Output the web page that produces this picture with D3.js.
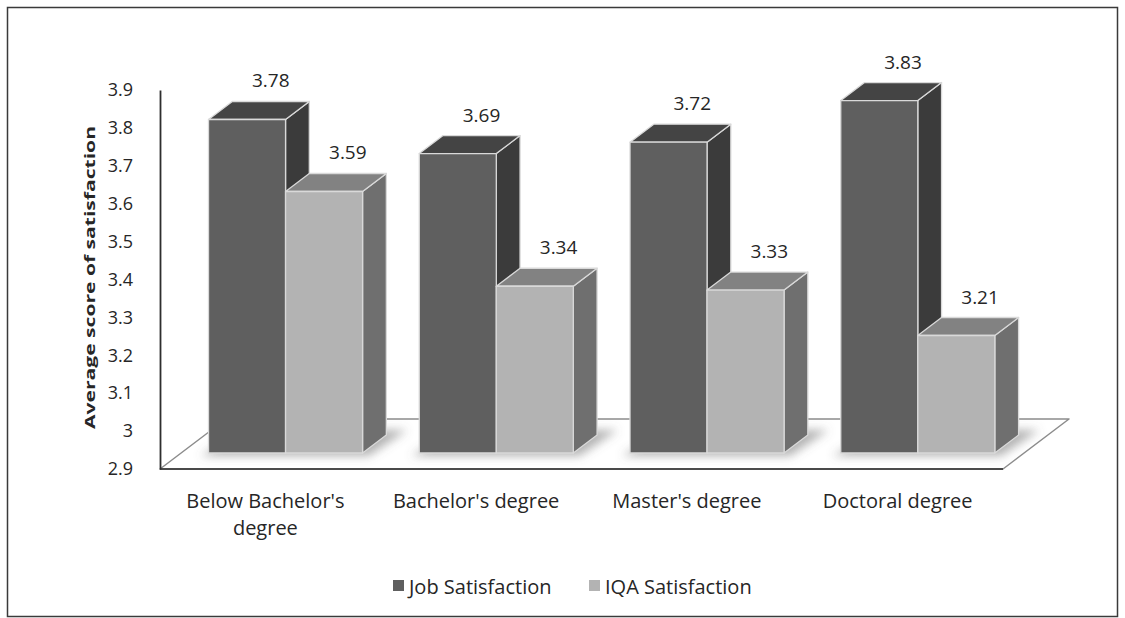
<!DOCTYPE html>
<html>
<head>
<meta charset="utf-8">
<script src="https://cdn.jsdelivr.net/npm/d3@7/dist/d3.min.js"></script>
<style>
  html, body { margin: 0; padding: 0; background: #ffffff; }
  svg { display: block; }
  text { font-family: "Open Sans", "Noto Sans", sans-serif; fill: #262626; }
</style>
</head>
<body>
<svg id="chart" width="1125" height="618"></svg>
<script>
// ---- data ----
const categories = ["Below Bachelor's degree", "Bachelor's degree", "Master's degree", "Doctoral degree"];
const seriesNames = ["Job Satisfaction", "IQA Satisfaction"];
const jobSatisfaction = [3.78, 3.69, 3.72, 3.83];
const iqaSatisfaction = [3.59, 3.34, 3.33, 3.21];
const yTicks = [2.9, 3.0, 3.1, 3.2, 3.3, 3.4, 3.5, 3.6, 3.7, 3.8, 3.9];
const yTitle = "Average score of satisfaction";

const seriesValues = [jobSatisfaction, iqaSatisfaction];

// face shades per series: front, top, side
const shades = [
  { front: "#5f5f5f", top: "#444444", side: "#3b3b3b" },
  { front: "#b3b3b3", top: "#828282", side: "#6f6f6f" }
];

const svg = d3.select("#chart");

// outer frame
svg.append("rect")
  .attr("x", 7.5).attr("y", 7.5)
  .attr("width", 1110).attr("height", 609)
  .attr("fill", "none").attr("stroke", "#3a3a3a").attr("stroke-width", 1.5);

// ---- scales ----
const x = d3.scaleBand().domain(categories).range([160, 1003]).padding(0);
const xInner = d3.scaleBand().domain(seriesNames)
  .range([x.bandwidth() * 0.13, x.bandwidth() * 0.861]).padding(0);
const y = d3.scaleLinear().domain([2.9, 3.9]).range([469, 90]);

// oblique depth direction for the 3D floor
const DX = 66, DY = -50;
const proj = (px, v, d) => [px + d * DX, y(v) + d * DY];
const depthFront = 0.32, depthBack = 0.68;
const base = y.domain()[0];

const defs = svg.append("defs");
defs.append("filter").attr("id", "soft")
  .attr("x", "-20%").attr("y", "-50%").attr("width", "140%").attr("height", "200%")
  .append("feGaussianBlur").attr("stdDeviation", 5);

// ---- floor ----
const floorPts = [
  proj(x.range()[0], base, 0),
  proj(x.range()[1], base, 0),
  proj(x.range()[1], base, 1),
  proj(x.range()[0], base, 1)
];
defs.append("clipPath").attr("id", "floorClip")
  .append("polygon").attr("points", floorPts.map(p => p.join(",")).join(" "));

svg.append("polygon")
  .attr("points", floorPts.map(p => p.join(",")).join(" "))
  .attr("fill", "#ffffff")
  .attr("stroke", "#8c8c8c").attr("stroke-width", 1.5)
  .attr("stroke-linejoin", "round");

// soft shadows cast on the floor by each bar pair
const shadowG = svg.append("g").attr("clip-path", "url(#floorClip)")
  .append("g").attr("filter", "url(#soft)");
categories.forEach((c, i) => {
  const x0 = x(c) + xInner(seriesNames[0]);
  const x1 = x(c) + xInner(seriesNames[1]) + xInner.bandwidth();
  const pts = [
    proj(x0 - 4, base, depthFront - 0.06),
    proj(x1 + 10, base, depthFront - 0.06),
    proj(x1 + 14, base, depthBack + 0.1),
    proj(x0 + 6, base, depthBack + 0.1)
  ];
  shadowG.append("polygon")
    .attr("points", pts.map(p => p.join(",")).join(" "))
    .attr("fill", "#6a6a6a").attr("opacity", 0.5);
});

// front edge of the floor
svg.append("line")
  .attr("x1", floorPts[0][0]).attr("y1", floorPts[0][1])
  .attr("x2", floorPts[1][0]).attr("y2", floorPts[1][1])
  .attr("stroke", "#4a4a4a").attr("stroke-width", 1.8);

// ---- y axis ----
const yAxis = d3.axisLeft(y)
  .tickValues(yTicks)
  .tickFormat(d3.format("~g"))
  .tickSize(0)
  .tickSizeOuter(0)
  .tickPadding(27);

const axisG = svg.append("g")
  .attr("transform", `translate(${x.range()[0]},0)`)
  .call(yAxis);
axisG.select(".domain").attr("stroke", "#2e2e2e").attr("stroke-width", 1.8);
axisG.selectAll(".tick text")
  .attr("font-family", "Open Sans, sans-serif")
  .attr("font-size", 18)
  .attr("fill", "#262626");

svg.append("text")
  .attr("transform", `translate(89,${(y(3.9) + y(2.9)) / 2 - 2}) rotate(-90)`)
  .attr("text-anchor", "middle")
  .attr("dominant-baseline", "central")
  .attr("font-size", 15)
  .attr("font-weight", "bold")
  .attr("textLength", 303)
  .attr("lengthAdjust", "spacingAndGlyphs")
  .attr("fill", "#111111")
  .text(yTitle);

// ---- 3D bars ----
const barsG = svg.append("g");
const edge = "#d9d9d9";

categories.forEach((c, i) => {
  seriesNames.forEach((s, k) => {
    const v = seriesValues[k][i];
    const xl = x(c) + xInner(s);
    const xr = xl + xInner.bandwidth();
    const sh = shades[k];
    const g = barsG.append("g");

    const fBL = proj(xl, base, depthFront), fBR = proj(xr, base, depthFront);
    const fTL = proj(xl, v, depthFront), fTR = proj(xr, v, depthFront);
    const bTL = proj(xl, v, depthBack), bTR = proj(xr, v, depthBack);
    const bBR = proj(xr, base, depthBack);

    const poly = pts => pts.map(p => p.join(",")).join(" ");

    // side face
    g.append("polygon").attr("points", poly([fTR, bTR, bBR, fBR]))
      .attr("fill", sh.side).attr("stroke", edge).attr("stroke-width", 1.3)
      .attr("stroke-linejoin", "round");
    // top face
    g.append("polygon").attr("points", poly([fTL, fTR, bTR, bTL]))
      .attr("fill", sh.top).attr("stroke", edge).attr("stroke-width", 1.3)
      .attr("stroke-linejoin", "round");
    // front face
    g.append("polygon").attr("points", poly([fBL, fBR, fTR, fTL]))
      .attr("fill", sh.front).attr("stroke", edge).attr("stroke-width", 1.3)
      .attr("stroke-linejoin", "round");

    // value label above the top face
    const lx = (bTL[0] + bTR[0]) / 2;
    const ly = bTL[1] - 21;
    barsG.append("text")
      .attr("x", lx).attr("y", ly)
      .attr("text-anchor", "middle")
      .attr("dominant-baseline", "central")
      .attr("font-size", 19)
      .attr("fill", "#262626")
      .text(d3.format(".2f")(v));
  });
});

// ---- category labels (wrapped) ----
const maxLabelWidth = 195;
categories.forEach(c => {
  const cx = x(c) + x.bandwidth() / 2;
  const t = svg.append("text")
    .attr("x", cx).attr("y", 501)
    .attr("text-anchor", "middle")
    .attr("font-size", 20)
    .attr("fill", "#262626");
  const words = c.split(" ");
  let line = [];
  let tspan = t.append("tspan").attr("x", cx).attr("dy", "0.35em");
  words.forEach(w => {
    line.push(w);
    tspan.text(line.join(" "));
    if (tspan.node().getComputedTextLength() > maxLabelWidth && line.length > 1) {
      line.pop();
      tspan.text(line.join(" "));
      line = [w];
      tspan = t.append("tspan").attr("x", cx).attr("dy", 27).text(w);
    }
  });
});

// ---- legend ----
const legendItems = [
  { name: seriesNames[0], color: shades[0].front, x: 393 },
  { name: seriesNames[1], color: shades[1].front, x: 589 }
];
const lg = svg.append("g");
legendItems.forEach(d => {
  lg.append("rect").attr("x", d.x).attr("y", 580).attr("width", 11).attr("height", 11)
    .attr("fill", d.color);
  lg.append("text").attr("x", d.x + 16).attr("y", 586)
    .attr("dominant-baseline", "central")
    .attr("font-size", 20)
    .attr("fill", "#262626")
    .text(d.name);
});
</script>
</body>
</html>
